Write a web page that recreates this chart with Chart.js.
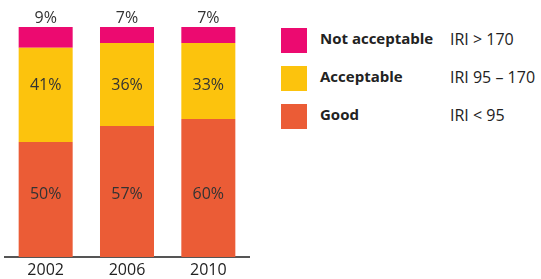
<!DOCTYPE html>
<html>
<head>
<meta charset="utf-8">
<script src="https://cdn.jsdelivr.net/npm/chart.js@4.4.4/dist/chart.umd.min.js"></script>
<style>
  body { margin: 0; background: #fff; font-family: "Open Sans", sans-serif; }
  #wrap { position: relative; width: 541px; height: 279px; }
  #chartBox { position: absolute; left: 0; top: 0; width: 255px; height: 279px; }
  .legend { position: absolute; left: 281px; top: 28px; }
  .row { position: relative; height: 38px; }
  .sw { position: absolute; left: 0; top: 0; width: 26px; height: 25px; }
  .name { position: absolute; left: 39px; top: 0px; font-size: 15px; font-weight: bold; color: #222; white-space: nowrap; }
  .range { position: absolute; left: 169px; top: 0px; font-size: 16px; color: #222; white-space: nowrap; }
</style>
</head>
<body>
<div id="wrap">
  <div id="chartBox"><canvas id="chart"></canvas></div>
  <div class="legend" id="legend"></div>
</div>
<script>
const years = ["2002", "2006", "2010"]
const good = [50, 57, 60]
const acceptable = [41, 36, 33]
const notAcceptable = [9, 7, 7]

const seriesNames = ["Good", "Acceptable", "Not acceptable"]
const seriesRanges = ["IRI < 95", "IRI 95 – 170", "IRI > 170"]
const seriesColors = ["#EB5C36", "#FCC30D", "#EC0A70"]

// percentage labels: first two series sit at a fixed height, the top one above the bar
const labelAnchor = [27, 74.5]

const valueLabels = {
    id: "valueLabels",
    afterDatasetsDraw(chart) {
        const ctx = chart.ctx
        const y = chart.scales.y
        ctx.save()
        ctx.font = "16px 'Open Sans'"
        ctx.fillStyle = "#333"
        ctx.textAlign = "center"
        ctx.textBaseline = "middle"
        chart.data.datasets.forEach((ds, i) => {
            const meta = chart.getDatasetMeta(i)
            meta.data.forEach((bar, j) => {
                let py
                if (i < labelAnchor.length) {
                    py = y.getPixelForValue(labelAnchor[i])
                } else {
                    py = bar.y - 9
                }
                ctx.fillText(ds.data[j] + "%", bar.x, py)
            })
        })
        ctx.restore()
    }
}

new Chart(document.getElementById("chart"), {
    type: "bar",
    data: {
        labels: years,
        datasets: [
            { label: seriesNames[0], data: good, backgroundColor: seriesColors[0] },
            { label: seriesNames[1], data: acceptable, backgroundColor: seriesColors[1] },
            { label: seriesNames[2], data: notAcceptable, backgroundColor: seriesColors[2] }
        ]
    },
    options: {
        responsive: true,
        maintainAspectRatio: false,
        animation: false,
        datasets: { bar: { barPercentage: 0.664, categoryPercentage: 1 } },
        layout: { padding: { left: 5, right: 6, top: 27, bottom: 0 } },
        plugins: { legend: { display: false }, tooltip: { enabled: false } },
        scales: {
            x: {
                stacked: true,
                grid: { display: false, drawTicks: false, tickLength: 0 },
                border: { display: true, color: "#555", width: 2 },
                ticks: { color: "#222", font: { family: "Open Sans", size: 16 }, padding: 4 },
                afterFit(scale) { scale.height = 22 }
            },
            y: {
                stacked: true,
                display: false,
                min: 0,
                max: 100
            }
        }
    },
    plugins: [valueLabels]
})

// legend, top row is the top of the stack
const legend = document.getElementById("legend")
for (let i = seriesNames.length - 1; i >= 0; i--) {
    const row = document.createElement("div")
    row.className = "row"
    row.innerHTML = '<div class="sw" style="background:' + seriesColors[i] + '"></div>' +
        '<div class="name">' + seriesNames[i] + '</div>' +
        '<div class="range">' + seriesRanges[i] + '</div>'
    legend.appendChild(row)
}
</script>
</body>
</html>
